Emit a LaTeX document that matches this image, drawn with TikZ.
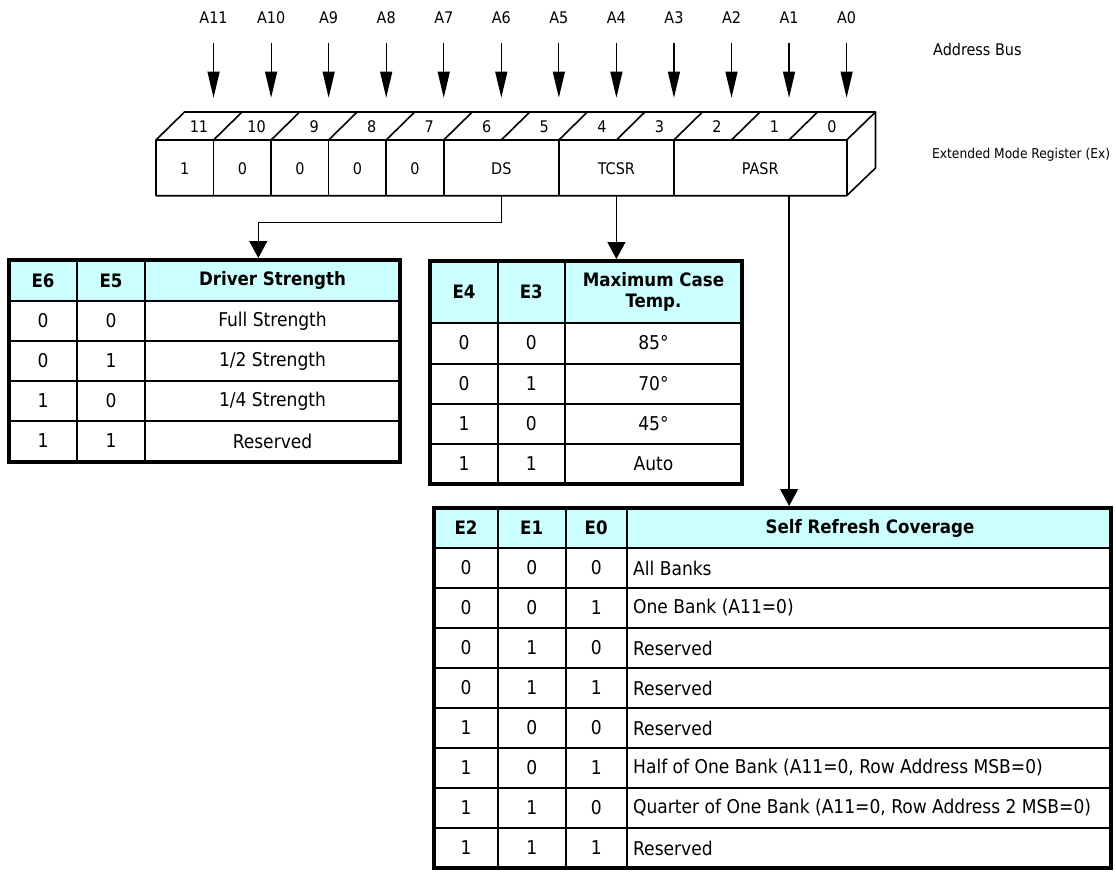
\documentclass[tikz,border=0pt]{standalone}
\usepackage{fontspec}
\setmainfont{DejaVu Sans Condensed}
\usepackage{xcolor}
\definecolor{colHead}{HTML}{CCFFFF}
\usepackage{tikz}
\usetikzlibrary{arrows.meta, positioning, calc}

\begin{document}
\begin{tikzpicture}[x=1pt, y=-1pt,
		reg/.style={line width=1.6pt, line join=round},
		lbl/.style={font=\fontsize{16}{18}\selectfont, inner sep=1pt},
		cell/.style={font=\fontsize{19}{22}\selectfont, inner sep=1pt},
		head/.style={font=\fontsize{18.5}{21.5}\selectfont\bfseries, inner sep=1pt, align=center},
		bus/.style={line width=1.2pt, -{Triangle[length=26pt, width=12pt]}},
		conn/.style={line width=1.3pt, -{Triangle[length=17pt, width=18pt]}},
		outer/.style={line width=4.5pt},
		inner/.style={line width=2pt}]
	\useasboundingbox (0,0) rectangle (1116,872);
	% Address bus
	\foreach \i in {0,...,11} {
		\node[lbl] (a\i) at ({156+(12-\i)*57.55},18) {A\i};
		\coordinate (t\i) at ({156+(12-\i)*57.55},97.7);
		\draw[bus] (a\i.center) ++(0,25) -- (t\i);
	}
	\node[lbl, anchor=west] (busname) at (932,50) {Address Bus};
	% Register box
	\draw[reg] (156,140) -- (184.5,112) -- (875.5,112) -- (875.5,168) -- (846.7,195.7) -- (156,195.7) -- cycle;
	\draw[reg] (156,140) -- (846.7,140) -- (875.5,112);
	\draw[reg] (846.7,140) -- (846.7,195.7);
	\foreach \k in {1,...,11}
		\draw[reg] ({156+\k*57.55},140) -- ++(28.5,-28);
	\foreach \k in {1,2,3,4,5,7,9}
		\draw[reg] ({156+\k*57.55},140) -- ++(0,55.7);
	\foreach \i in {0,...,11}
		\node[lbl] (n\i) at ({156+(11.5-\i)*57.55+14.2},126.5) {\i};
	\node[lbl] (f11) at ({156+0.5*57.55},169) {1};
	\foreach \i in {10,...,7}
		\node[lbl] (f\i) at ({156+(11.5-\i)*57.55},169) {0};
	\node[lbl] (ds) at (501.3,169) {DS};
	\node[lbl] (tcsr) at (616.4,169) {TCSR};
	\node[lbl] (pasr) at (760.3,169) {PASR};
	\node[lbl, font=\fontsize{13.6}{16}\selectfont, anchor=west] (regname) at (931,155) {Extended Mode Register (Ex)};
	% Connectors
	\coordinate (dsout) at (501.3,195.7);
	\coordinate (tcsrout) at (616.4,195.7);
	\coordinate (pasrout) at (789.1,195.7);
	\coordinate (drvin) at (258.3,258);
	\coordinate (tmpin) at (616.4,259);
	\coordinate (srfin) at (789.1,506);
	\draw[conn] (dsout) -- ++(0,26.5) -| (drvin);
	\draw[conn] (tcsrout) -- (tmpin);
	\draw[conn] (pasrout) -- (srfin);
	% Driver strength table
	\fill[colHead] (9,260) rectangle (400,301);
	\foreach \y in {301,341,381,421}
		\draw[inner] (9,\y) -- (400,\y);
	\foreach \x in {77,145}
		\draw[inner] (\x,260) -- (\x,462);
	\draw[outer] (9,260) rectangle (400,462);
	\node[head] (drvh1) at (43,280.5) {E6};
	\node[head] (drvh2) at (111,280.5) {E5};
	\node[head] (drvh3) at (272.5,280.5) {Driver Strength};
	\foreach \a/\b/\t [count=\r] in {0/0/{Full Strength}, 0/1/{1/2 Strength}, 1/0/{1/4 Strength}, 1/1/{Reserved}} {
		\node[cell] (drv\r a) at (43,{281+40*\r}) {\a};
		\node[cell] (drv\r b) at (111,{281+40*\r}) {\b};
		\node[cell] (drv\r c) at (272.5,{281+40*\r}) {\t};
	}
	% Maximum case temperature table
	\fill[colHead] (430,261) rectangle (742,323);
	\foreach \y in {323,363.5,404,444}
		\draw[inner] (430,\y) -- (742,\y);
	\foreach \x in {497.7,565}
		\draw[inner] (\x,261) -- (\x,484);
	\draw[outer] (430,261) rectangle (742,484);
	\node[head] (tmph1) at (464,292) {E4};
	\node[head] (tmph2) at (531.3,292) {E3};
	\node[head] (tmph3) at (653.5,292) {Maximum Case\\Temp.};
	\foreach \a/\b/\t [count=\r] in {0/0/85°, 0/1/70°, 1/0/45°, 1/1/Auto} {
		\node[cell] (tmp\r a) at (464,{302.5+40.3*\r}) {\a};
		\node[cell] (tmp\r b) at (531.3,{302.5+40.3*\r}) {\b};
		\node[cell] (tmp\r c) at (653.5,{302.5+40.3*\r}) {\t};
	}
	% Self refresh table
	\fill[colHead] (434,508) rectangle (1111,548);
	\foreach \y in {548,588,...,828}
		\draw[inner] (434,\y) -- (1111,\y);
	\foreach \x in {497.7,565.7,626.7}
		\draw[inner] (\x,508) -- (\x,868);
	\draw[outer] (434,508) rectangle (1111,868);
	\node[head] (srfh1) at (466,528) {E2};
	\node[head] (srfh2) at (531.7,528) {E1};
	\node[head] (srfh3) at (596.2,528) {E0};
	\node[head] (srfh4) at (870,528) {Self Refresh Coverage};
	\foreach \a/\b/\c/\t [count=\r] in {0/0/0/{All Banks}, 0/0/1/{One Bank (A11=0)}, 0/1/0/{Reserved}, 0/1/1/{Reserved}, 1/0/0/{Reserved}, 1/0/1/{Half of One Bank (A11=0, Row Address MSB=0)}, 1/1/0/{Quarter of One Bank (A11=0, Row Address 2 MSB=0)}, 1/1/1/{Reserved}} {
		\node[cell] (srf\r a) at (466,{528+40*\r}) {\a};
		\node[cell] (srf\r b) at (531.7,{528+40*\r}) {\b};
		\node[cell] (srf\r c) at (596.2,{528+40*\r}) {\c};
		\node[cell, anchor=west] (srf\r d) at (632,{528+40*\r}) {\t};
	}
\end{tikzpicture}
\end{document}
